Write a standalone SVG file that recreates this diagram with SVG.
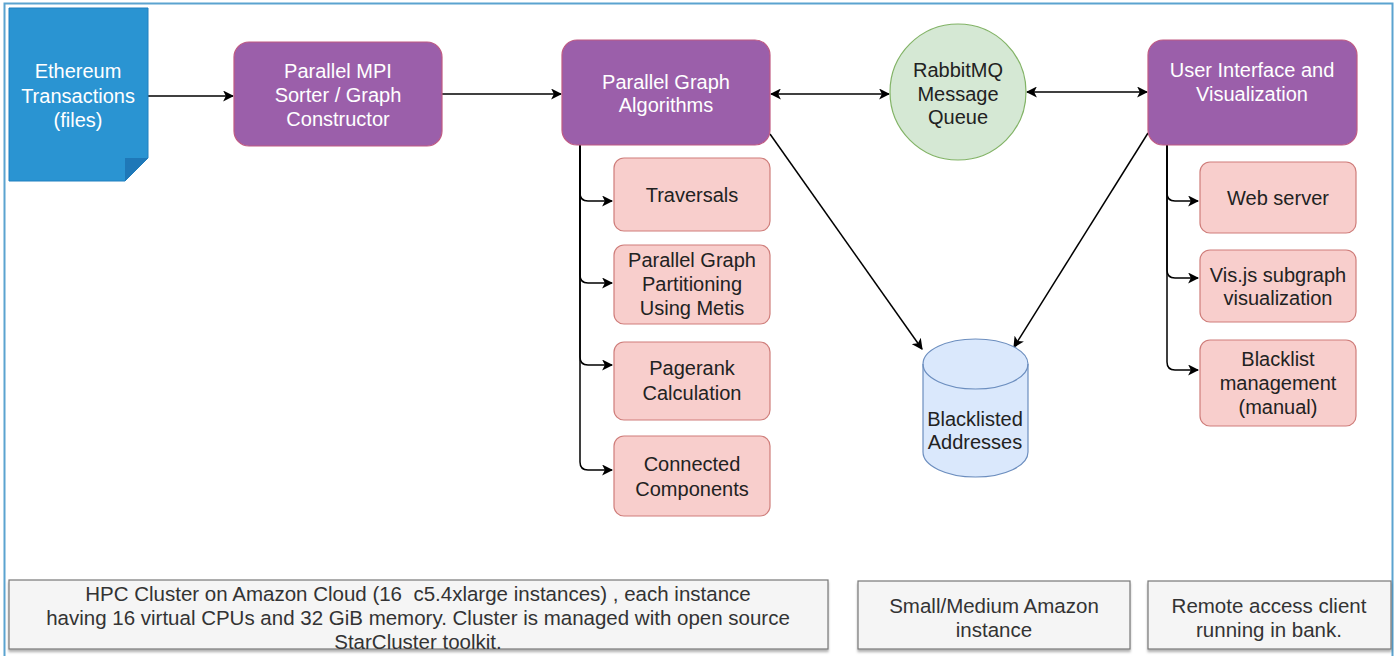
<svg xmlns="http://www.w3.org/2000/svg" width="1395" height="656" viewBox="0 0 1395 656">
<defs>
<marker id="arr" viewBox="0 0 10 10" refX="9" refY="5" markerWidth="11" markerHeight="11" markerUnits="userSpaceOnUse" orient="auto-start-reverse">
<path d="M0,0 L10,5 L0,10 L2.5,5 Z" fill="#000"/>
</marker>
<filter id="sh" x="-5%" y="-10%" width="110%" height="130%">
<feDropShadow dx="0" dy="2.5" stdDeviation="1" flood-color="#000" flood-opacity="0.3"/>
</filter>
</defs>
<style>
text{font-family:"Liberation Sans",Arial,sans-serif;font-size:20px;text-anchor:middle;dominant-baseline:central}
.w{fill:#fff}
.k{fill:#222}
.g{fill:#333;font-size:20.5px}
.purple{fill:#9B5FAA;stroke:#C05A82;stroke-width:1.2}
.pink{fill:#F8CECC;stroke:#CF7D7A;stroke-width:1.2}
.grey{fill:#F5F5F5;stroke:#777;stroke-width:1.2}
.c{fill:none;stroke:#000;stroke-width:1.5}
</style>
<rect x="0" y="0" width="1395" height="656" fill="#fff"/>
<path d="M4.5,656 V3.5 H1392.5 V656" fill="none" stroke="#5BA3D0" stroke-width="2"/>

<g id="connectors">
<path class="c" d="M148,96 H233" marker-end="url(#arr)"/>
<path class="c" d="M442,94 H561" marker-end="url(#arr)"/>
<path class="c" d="M771,94 H889" marker-start="url(#arr)" marker-end="url(#arr)"/>
<path class="c" d="M1027,92 H1147" marker-start="url(#arr)" marker-end="url(#arr)"/>
<path class="c" d="M770,134 L922,349" marker-end="url(#arr)"/>
<path class="c" d="M1148,133 L1014,347" marker-end="url(#arr)"/>
<path class="c" d="M580,145 V193 Q580,201 588,201 H612" marker-end="url(#arr)"/>
<path class="c" d="M580,145 V275 Q580,283 588,283 H612" marker-end="url(#arr)"/>
<path class="c" d="M580,145 V357 Q580,365 588,365 H612" marker-end="url(#arr)"/>
<path class="c" d="M580,145 V462 Q580,470 588,470 H612" marker-end="url(#arr)"/>
<path class="c" d="M1167,145 V193 Q1167,201 1175,201 H1198" marker-end="url(#arr)"/>
<path class="c" d="M1167,145 V270 Q1167,278 1175,278 H1198" marker-end="url(#arr)"/>
<path class="c" d="M1167,145 V362 Q1167,370 1175,370 H1198" marker-end="url(#arr)"/>
</g>

<g id="ethereum">
<path d="M9,8 H148 V158 L125,181 H9 Z" fill="#2A94D2" stroke="#2080C0" stroke-width="1"/>
<path d="M125,181 V158 H148 Z" fill="#1F78B8"/>
<text class="w" x="78" y="71">Ethereum</text>
<text class="w" x="78" y="96">Transactions</text>
<text class="w" x="78" y="120">(files)</text>
</g>

<g id="mpi">
<rect class="purple" x="234" y="42" width="208" height="104" rx="15"/>
<text class="w" x="338" y="71">Parallel MPI</text>
<text class="w" x="338" y="95">Sorter / Graph</text>
<text class="w" x="338" y="119">Constructor</text>
</g>

<g id="pga">
<rect class="purple" x="562" y="40" width="208" height="105" rx="15"/>
<text class="w" x="666" y="82">Parallel Graph</text>
<text class="w" x="666" y="105">Algorithms</text>
</g>

<g id="rabbit">
<circle cx="958" cy="92" r="68" fill="#D5E8D4" stroke="#82B366" stroke-width="1.2"/>
<text class="k" x="958" y="70">RabbitMQ</text>
<text class="k" x="958" y="94">Message</text>
<text class="k" x="958" y="117">Queue</text>
</g>

<g id="ui">
<rect class="purple" x="1148" y="40" width="209" height="105" rx="15"/>
<text class="w" x="1252" y="70">User Interface and</text>
<text class="w" x="1252" y="94">Visualization</text>
</g>

<g id="traversals">
<rect class="pink" x="614" y="158" width="156" height="73" rx="10"/>
<text class="k" x="692" y="195">Traversals</text>
</g>
<g id="partitioning">
<rect class="pink" x="614" y="245" width="156" height="79" rx="10"/>
<text class="k" x="692" y="260">Parallel Graph</text>
<text class="k" x="692" y="284">Partitioning</text>
<text class="k" x="692" y="308">Using Metis</text>
</g>
<g id="pagerank">
<rect class="pink" x="614" y="342" width="156" height="78" rx="10"/>
<text class="k" x="692" y="368">Pagerank</text>
<text class="k" x="692" y="393">Calculation</text>
</g>
<g id="connected">
<rect class="pink" x="614" y="436" width="156" height="80" rx="10"/>
<text class="k" x="692" y="464">Connected</text>
<text class="k" x="692" y="489">Components</text>
</g>

<g id="blacklisted">
<path d="M923,364 A52.5,25 0 0 1 1028,364 V452 A52.5,25 0 0 1 923,452 Z" fill="#DAE8FC" stroke="#6C8EBF" stroke-width="1.2"/>
<path d="M923,364 A52.5,25 0 0 0 1028,364" fill="none" stroke="#6C8EBF" stroke-width="1.2"/>
<text class="k" x="975" y="419">Blacklisted</text>
<text class="k" x="975" y="442">Addresses</text>
</g>

<g id="webserver">
<rect class="pink" x="1200" y="162" width="156" height="71" rx="10"/>
<text class="k" x="1278" y="198">Web server</text>
</g>
<g id="visjs">
<rect class="pink" x="1200" y="250" width="156" height="72" rx="10"/>
<text class="k" x="1278" y="275">Vis.js subgraph</text>
<text class="k" x="1278" y="298">visualization</text>
</g>
<g id="blacklistmgmt">
<rect class="pink" x="1200" y="340" width="156" height="86" rx="10"/>
<text class="k" x="1278" y="359">Blacklist</text>
<text class="k" x="1278" y="383">management</text>
<text class="k" x="1278" y="407">(manual)</text>
</g>

<g id="hpc">
<rect class="grey" x="9" y="580" width="819" height="69" filter="url(#sh)"/>
<text class="g" x="418" y="593">HPC Cluster on Amazon Cloud (16&#160; c5.4xlarge instances) , each instance</text>
<text class="g" x="418" y="617">having 16 virtual CPUs and 32 GiB memory. Cluster is managed with open source</text>
<text class="g" x="418" y="641">StarCluster toolkit.</text>
</g>
<g id="smallmedium">
<rect class="grey" x="858" y="581" width="272" height="68" filter="url(#sh)"/>
<text class="g" x="994" y="605">Small/Medium Amazon</text>
<text class="g" x="994" y="629">instance</text>
</g>
<g id="remote">
<rect class="grey" x="1148" y="581" width="243" height="68" filter="url(#sh)"/>
<text class="g" x="1269" y="605">Remote access client</text>
<text class="g" x="1269" y="629">running in bank.</text>
</g>
</svg>
